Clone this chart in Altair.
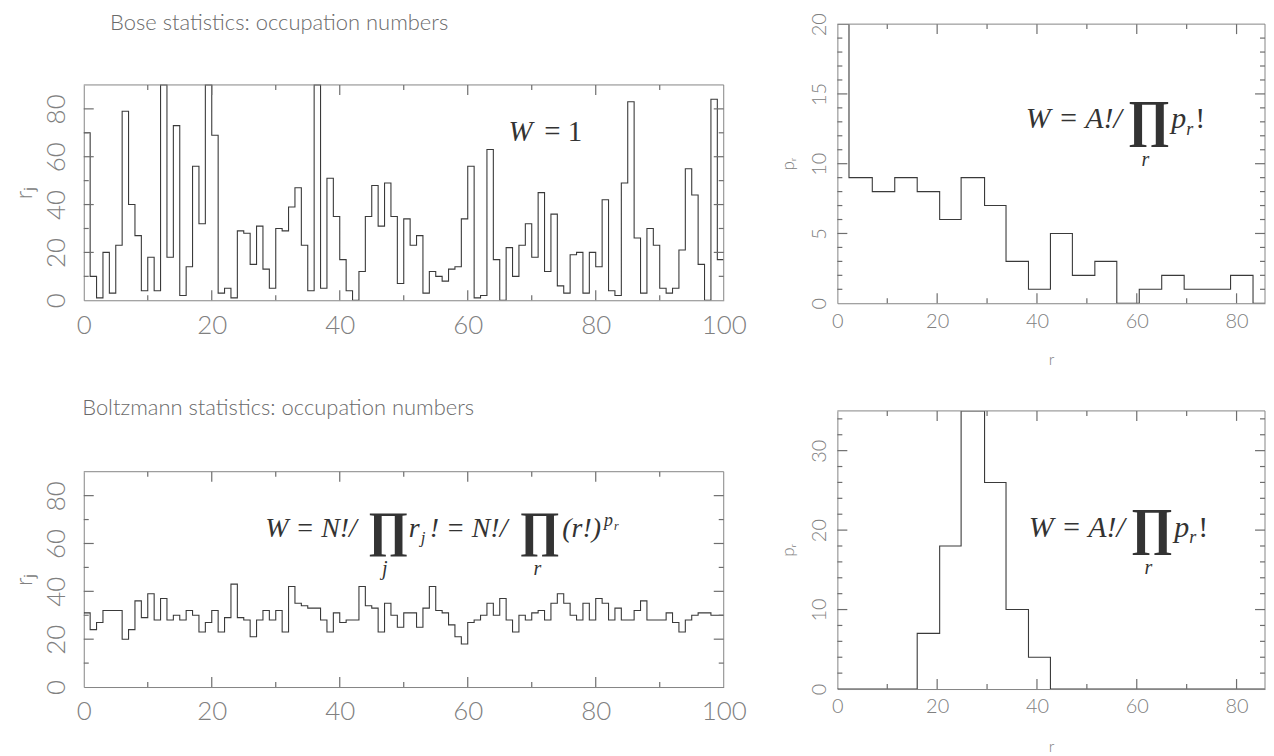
import altair as alt
import pandas as pd

# ---------------- data ----------------
# Bose statistics: occupation numbers r_j for cells j = 0..99 (values above 90 are off-scale)
bose_r = [70, 10, 1, 20, 3, 23, 79, 40, 27, 4,
          18, 4, 100, 18, 73, 2, 14, 56, 32, 100,
          69, 3, 5, 1, 29, 28, 15, 31, 13, 5,
          30, 29, 39, 47, 23, 4, 100, 5, 51, 35,
          17, 4, 0, 12, 35, 48, 31, 49, 35, 7,
          34, 23, 27, 3, 12, 10, 8, 13, 14, 34,
          56, 1, 2, 63, 17, 0, 22, 10, 23, 32,
          18, 45, 12, 36, 6, 3, 19, 20, 3, 20,
          14, 42, 4, 2, 49, 83, 26, 3, 30, 23,
          5, 3, 5, 21, 55, 44, 15, 0, 84, 17]

# Boltzmann statistics: occupation numbers r_j
boltz_r = [31, 24, 27, 32, 32, 32, 20, 24, 36, 29,
           39, 28, 37, 28, 30, 28, 32, 30, 23, 27,
           32, 23, 29, 43, 29, 28, 21, 28, 32, 28,
           32, 23, 42, 35, 34, 33, 33, 28, 23, 31,
           27, 28, 28, 42, 34, 33, 23, 35, 30, 25,
           31, 31, 25, 33, 42, 32, 31, 26, 21, 18,
           27, 28, 30, 35, 30, 37, 28, 23, 30, 28,
           31, 32, 28, 35, 39, 35, 30, 28, 35, 28,
           37, 35, 28, 33, 28, 28, 32, 36, 28, 28,
           28, 31, 27, 23, 28, 30, 31, 31, 30, 30]

cells = list(range(101))  # cell boundaries j = 0..100

# histogram p_r (bin edges in r, counts)
bose_edges = [0, 2.33, 7.0, 11.5, 16.0, 20.5, 24.8, 29.5, 33.8, 38.3, 42.7,
              47.1, 51.6, 56.0, 60.5, 65.0, 69.5, 74.0, 78.8, 83.3, 85.7]
bose_pr = [23, 9, 8, 9, 8, 6, 9, 7, 3, 1, 5, 2, 3, 0, 1, 2, 1, 1, 2, 0]

boltz_edges = [0, 16.0, 20.5, 24.8, 29.5, 33.8, 38.3, 42.7, 85.7]
boltz_pr = [0, 7, 18, 35, 26, 10, 4, 0]

# tick values
j_labels = [0, 20, 40, 60, 80, 100]
j_major = [20, 40, 60, 80]
j_minor = [10, 30, 50, 70, 90]
rj_labels = [0, 20, 40, 60, 80]
rj_major = [20, 40, 60, 80]
rj_minor = [10, 30, 50, 70]
r_labels = [0, 20, 40, 60, 80]
r_major = [20, 40, 60, 80]
r_minor = [10, 30, 50, 70]
pr1_labels = [0, 5, 10, 15, 20]
pr1_major = [5, 10, 15]
pr1_minor = [1, 2, 3, 4, 6, 7, 8, 9, 11, 12, 13, 14, 16, 17, 18, 19]
pr2_labels = [0, 10, 20, 30]
pr2_major = [10, 20, 30]
pr2_minor = [2, 4, 6, 8, 12, 14, 16, 18, 22, 24, 26, 28, 32, 34]

# ---------------- styling ----------------
GRAY = "#808080"
FRAME = "#858585"
TICK = "#6e6e6e"
LINE = "#3a3a3a"
LAB_FONT = "Lato"
SERIF = "Liberation Serif"
MAJ, MIN = 10, 5


def steps(xs, ys):
    return pd.DataFrame({"x": xs, "y": list(ys) + [ys[-1]]})


def txt(s, x, y, size, italic=False, align="left", font=SERIF, color="#333333",
        weight="normal", baseline="alphabetic"):
    return alt.Chart(pd.DataFrame({"t": [0]})).mark_text(
        text=s, font=font, fontSize=size, fontStyle="italic" if italic else "normal",
        align=align, baseline=baseline, color=color, fontWeight=weight
    ).encode(x=alt.value(x), y=alt.value(y))


def panel(df, W, G, T, xdom, ydom, xlab, ylab, xmaj, xmin, ymaj, ymin, lab_size,
          xpad, ypad, ytitle, ytitle_size, ytitle_pad, xtitle=None, xtitle_size=18,
          xtitle_pad=20, texts=()):
    """W: plot width; G: view height; T: top of the plotting frame inside the view."""
    xs = alt.Scale(domain=xdom, nice=False, zero=False, clamp=True)
    ys = alt.Scale(domain=ydom, nice=False, zero=False, clamp=True, range=[G, T])

    xa_kw = dict(orient="bottom", values=xlab, ticks=False, domain=True, domainColor=FRAME,
                 domainWidth=1, labelFont=LAB_FONT, labelFontSize=lab_size,
                 labelFontWeight=300, labelColor=GRAY, labelPadding=xpad,
                 labelFlush=False, labelOverlap=False, grid=False)
    if xtitle:
        xa_kw.update(title=xtitle, titleFont=LAB_FONT, titleFontSize=xtitle_size,
                     titleFontWeight=300, titleColor=GRAY, titlePadding=xtitle_pad)
    else:
        xa_kw.update(title=None)
    ya = alt.Axis(orient="left", values=ylab, ticks=False, domain=True, domainColor=FRAME,
                  domainWidth=1, labelFont=LAB_FONT, labelFontSize=lab_size,
                  labelFontWeight=300, labelColor=GRAY, labelPadding=ypad, labelAngle=-90,
                  labelFlush=False, labelOverlap=False, grid=False,
                  title=ytitle, titleFont=LAB_FONT, titleFontSize=ytitle_size,
                  titleFontWeight=300, titleColor=GRAY, titlePadding=ytitle_pad)

    line = alt.Chart(df).mark_line(interpolate="step-after", clip=True, color=LINE,
                                   strokeWidth=1.1).encode(
        x=alt.X("x:Q", scale=xs, axis=alt.Axis(**xa_kw)),
        y=alt.Y("y:Q", scale=ys, axis=ya))

    frame_top = alt.Chart(pd.DataFrame({"t": [0]})).mark_rule(
        color=FRAME, strokeWidth=1).encode(x=alt.value(0), x2=alt.value(W), y=alt.value(T))
    frame_right = alt.Chart(pd.DataFrame({"t": [0]})).mark_rule(
        color=FRAME, strokeWidth=1).encode(x=alt.value(W), y=alt.value(T), y2=alt.value(G))

    def xticks(vals, size):
        d = pd.DataFrame({"x": vals})
        out = []
        for y0, y1 in ((G, G - size), (T, T + size)):
            out.append(alt.Chart(d).mark_rule(color=TICK, strokeWidth=1.2).encode(
                x=alt.X("x:Q", scale=xs), y=alt.value(y0), y2=alt.value(y1)))
        return out

    def yticks(vals, size):
        d = pd.DataFrame({"y": vals})
        out = []
        for x0, x1 in ((0, size), (W, W - size)):
            out.append(alt.Chart(d).mark_rule(color=TICK, strokeWidth=1.2).encode(
                y=alt.Y("y:Q", scale=ys), x=alt.value(x0), x2=alt.value(x1)))
        return out

    layers = ([line, frame_top, frame_right]
              + xticks(xmaj, MAJ) + xticks(xmin, MIN)
              + yticks(ymaj, MAJ) + yticks(ymin, MIN)
              + list(texts))
    return alt.layer(*layers).properties(width=W, height=G)


# ---------------- panels ----------------
WL, HL, TOPL = 642, 216, 61
GL = HL + TOPL
WR, HR = 429, 280
HR2 = 279

tl_texts = [
    txt("Bose statistics: occupation numbers", 196, TOPL - 62, 22, font=LAB_FONT,
        align="center", color="#6a6a6a", weight=300, baseline="middle"),
    txt("W", 426, TOPL + 56, 29, italic=True),
    txt("= 1", 462, TOPL + 56, 29),
]
TL = panel(steps(cells, bose_r), WL, GL, TOPL, [0, 100], [0, 90],
           j_labels, rj_labels, j_major, j_minor, rj_major, rj_minor,
           26, 12, 14, "rⱼ", 24, 7, texts=tl_texts)

bl_texts = [
    txt("Boltzmann statistics: occupation numbers", 195, TOPL - 64, 22, font=LAB_FONT,
        align="center", color="#6a6a6a", weight=300, baseline="middle"),
    txt("W = N!/", 182, TOPL + 65, 28, italic=True),
    txt("∏", 285, TOPL + 75, 50, weight="bold"),
    txt("j", 302, TOPL + 104, 20, italic=True, align="center"),
    txt("r", 326, TOPL + 65, 28, italic=True),
    txt("j", 338, TOPL + 72, 17, italic=True),
    txt("! = N!/", 347, TOPL + 65, 28, italic=True),
    txt("∏", 437, TOPL + 75, 50, weight="bold"),
    txt("r", 455, TOPL + 104, 20, italic=True, align="center"),
    txt("(r!)", 480, TOPL + 65, 28, italic=True),
    txt("p", 522, TOPL + 54, 18, italic=True),
    txt("r", 532, TOPL + 58, 12, italic=True),
]
BL = panel(steps(cells, boltz_r), WL, GL, TOPL, [0, 100], [0, 90],
           j_labels, rj_labels, j_major, j_minor, rj_major, rj_minor,
           26, 12, 14, "rⱼ", 24, 7, texts=bl_texts)


def formula_A(dx, dy):
    return [
        txt("W = A!/", dx, dy, 30, italic=True),
        txt("∏", dx + 102, dy + 8, 52, weight="bold"),
        txt("r", dx + 120, dy + 38, 20, italic=True, align="center"),
        txt("p", dx + 146, dy, 30, italic=True),
        txt("r", dx + 161, dy + 7, 18, italic=True),
        txt("!", dx + 170, dy, 30),
    ]


TR = panel(steps(bose_edges, bose_pr), WR, HR, 0, [0, 85.7], [0, 20],
           r_labels, pr1_labels, r_major, r_minor, pr1_major, pr1_minor,
           20, 8, 8, "pᵣ", 17, 12, xtitle="r", xtitle_size=16, xtitle_pad=20,
           texts=formula_A(189, 104))

BR = panel(steps(boltz_edges, boltz_pr), WR, HR2, 0, [0, 85.7], [0, 35],
           r_labels, pr2_labels, r_major, r_minor, pr2_major, pr2_minor,
           20, 8, 8, "pᵣ", 17, 12, xtitle="r", xtitle_size=16, xtitle_pad=22,
           texts=formula_A(192, 126))

chart = alt.concat(TL, TR, BL, BR, columns=2, spacing={"row": 108, "column": 114},
                   bounds="flush").configure_view(strokeWidth=0).properties(
    padding={"left": 5, "top": 3, "right": 0, "bottom": 0}, background="white")

chart.save("out.html", embed_options={"renderer": "svg", "actions": False})
